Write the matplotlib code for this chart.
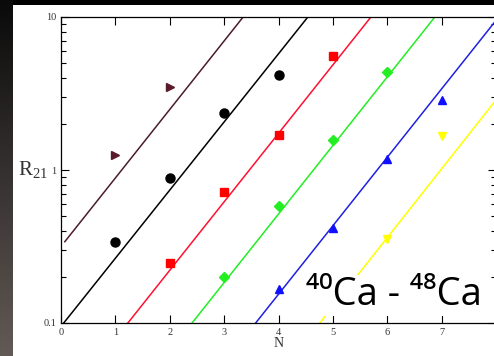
import numpy as np
import matplotlib.pyplot as plt
from matplotlib.patches import Rectangle
from matplotlib.colors import LinearSegmentedColormap

# data
n_brown = [1, 2]
r_brown = [1.25, 3.5]
n_black = [1, 2, 3, 4]
r_black = [0.34, 0.88, 2.35, 4.2]
n_red = [2, 3, 4, 5]
r_red = [0.245, 0.72, 1.7, 5.6]
n_green = [3, 4, 5, 6]
r_green = [0.2, 0.58, 1.58, 4.35]
n_blue = [4, 5, 6, 7]
r_blue = [0.168, 0.42, 1.18, 2.85]
n_yellow = [6, 7]
r_yellow = [0.355, 1.66]

# fitted lines (start / end points)
line_x0 = [0.07, 0.05, 1.23, 2.41, 3.58, 4.76]
line_y0 = [0.34, 0.1, 0.1, 0.1, 0.1, 0.1]
line_x1 = [3.35, 4.54, 5.70, 6.875, 8.0, 8.0]
line_y1 = [10, 10, 10, 10, 9.5, 2.87]
line_col = ['#4a1c2c', 'black', '#ff1030', '#22ee22', '#2020e0', '#ffff00']

W, H = 494, 356
fig = plt.figure(figsize=(W/100, H/100), dpi=100, facecolor='black')

# left dark gradient strip
gax = fig.add_axes([0, 0, 13/W, 1])
grad = np.linspace(0, 1, 256).reshape(-1, 1)
gax.imshow(grad, aspect='auto', cmap=LinearSegmentedColormap.from_list('g', ['#0a0a0a', '#625a56']),
           extent=[0, 1, 0, 1])
gax.axis('off')
fig.add_artist(Rectangle((13/W, 0), 1 - 13/W, 351/H, transform=fig.transFigure,
                         facecolor='white', edgecolor='none', zorder=0))

ax = fig.add_axes([61/W, 33/H, 435/W, 306/H])
ax.set_facecolor('white')

for i in range(len(line_x0)):
    ax.plot([line_x0[i], line_x1[i]], [line_y0[i], line_y1[i]], color=line_col[i], lw=1.1, zorder=2)

ax.plot(n_brown, r_brown, '>', color='#5a1a2a', ms=6, zorder=3)
ax.plot(n_black, r_black, 'o', color='black', ms=6.5, zorder=3)
ax.plot(n_red, r_red, 's', color='#ff0000', ms=5.5, zorder=3)
ax.plot(n_green, r_green, 'D', color='#22ee22', ms=5, zorder=3)
ax.plot(n_blue, r_blue, '^', color='#1010ff', ms=6, zorder=3)
ax.plot(n_yellow, r_yellow, 'v', color='#ffff00', ms=6, zorder=3)

ax.set_yscale('log')
ax.set_xlim(0, 8)
ax.set_ylim(0.1, 10)
ax.set_xticks(range(9))
ax.set_yticks([0.1, 1, 10])
ax.set_yticklabels(['0.1', '1', '10'])
ax.tick_params(which='both', direction='in', top=True, right=True, labelsize=7.5,
               colors='black', labelcolor='#333333', width=0.8)
ax.tick_params(which='major', length=6)
ax.tick_params(which='minor', length=3.5)
for lab in ax.get_xticklabels() + ax.get_yticklabels():
    lab.set_family('Liberation Serif')
for s in ax.spines.values():
    s.set_linewidth(0.9)

ax.set_xlabel('N', family='Liberation Serif', fontsize=10, color='#333333', labelpad=0)
ax.text(-0.03, 0.5, r'$\mathregular{R_{21}}$', transform=ax.transAxes, family='Liberation Serif',
        fontsize=15, color='#333333', ha='right', va='center')

ax.text(4.5, 0.131, '\u2074\u2070Ca - \u2074\u2078Ca', family=['Open Sans', 'DejaVu Sans'],
        fontsize=27.5, color='black', ha='left', va='baseline', zorder=4,
        bbox=dict(facecolor='white', edgecolor='none', pad=1))

fig.savefig('out.png', dpi=100, facecolor='black')
